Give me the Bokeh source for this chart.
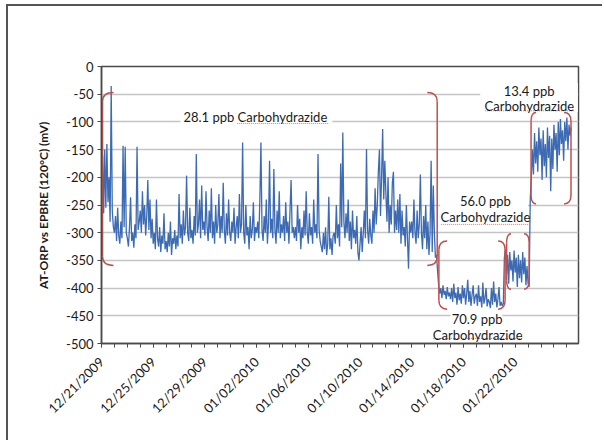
import math

from bokeh.plotting import figure
from bokeh.models import Range1d, FixedTicker, Label
from bokeh.embed import file_html
from bokeh.resources import INLINE

# Readings every 2 hours; x is in days since 12/21/2009 00:00
READINGS_PER_DAY = 12

x_tick_days = [0, 4, 8, 12, 16, 20, 24, 28, 32]
x_tick_labels = ["12/21/2009", "12/25/2009", "12/29/2009", "01/02/2010", "01/06/2010",
                 "01/10/2010", "01/14/2010", "01/18/2010", "01/22/2010"]
y_ticks = list(range(-500, 1, 50))

# AT-ORP (mV) at 28.1 ppb carbohydrazide, one row per day from 12/21
orp_28_1 = [
    -250, -160, -265, -150, -255, -140, -245, -200, -280, -35, -260, -290,
    -300, -270, -315, -255, -305, -320, -280, -310, -143, -290, -145, -300,
    -310, -325, -290, -236, -315, -300, -327, -285, -310, -145, -295, -280,
    -260, -300, -225, -285, -250, -305, -270, -205, -295, -240, -310, -275,
    -320, -300, -330, -240, -310, -325, -290, -335, -305, -320, -265, -330,
    -315, -335, -300, -325, -280, -340, -310, -320, -295, -330, -305, -325,
    -230, -310, -285, -320, -260, -305, -290, -197, -300, -315, -255, -310,
    -295, -320, -270, -305, -158, -300, -285, -240, -310, -215, -295, -280,
    -305, -225, -290, -315, -260, -300, -220, -310, -280, -320, -250, -300,
    -285, -230, -310, -270, -300, -210, -295, -320, -265, -305, -240, -300,
    -315, -280, -300, -255, -320, -290, -270, -310, -230, -300, -285, -137,
    -300, -320, -250, -305, -290, -330, -270, -310, -295, -245, -315, -290,
    -300, -280, -310, -240, -137, -295, -315, -270, -300, -240, -320, -285,
    -170, -300, -275, -310, -185, -295, -320, -260, -300, -225, -310, -285,
    -300, -270, -315, -245, -300, -280, -320, -260, -205, -300, -290, -310,
    -290, -315, -250, -300, -275, -330, -290, -310, -260, -305, -225, -300,
    -320, -265, -305, -290, -320, -240, -300, -285, -310, -158, -295, -315,
    -325, -335, -300, -330, -290, -340, -320, -235, -330, -310, -340, -305,
    -300, -320, -250, -310, -285, -325, -175, -290, -119, -280, -310, -265,
    -300, -240, -315, -280, -330, -260, -310, -295, -320, -270, -335, -350,
    -320, -290, -335, -300, -260, -310, -149, -295, -320, -275, -305, -320,
    -260, -300, -220, -285, -250, -190, -150, -270, -200, -113, -240, -170,
    -230, -280, -200, -300, -250, -285, -210, -190, -300, -260, -295, -240,
    -300, -230, -320, -260, -305, -290, -325, -250, -310, -365, -280, -300,
    -280, -310, -240, -300, -320, -260, -310, -285, -195, -300, -330, -270,
    -310, -250, -330, -280, -340, -300, -170, -335, -215, -300, -345, -340,
]

# AT-ORP (mV) at 70.9 ppb carbohydrazide, from 01/16
orp_70_9 = [
    -370, -395, -410, -400, -418, -395, -412, -405, -420, -398, -415, -408,
    -420, -400, -425, -392, -418, -408, -430, -398, -422, -410, -428, -395,
    -418, -400, -430, -410, -385, -425, -405, -432, -412, -395, -428, -415,
    -410, -432, -395, -425, -415, -435, -390, -428, -418, -400, -433, -420,
    -425, -436, -400, -430, -388, -425, -410, -435, -420, -398, -432, -425,
    -432, -428,
]

# AT-ORP (mV) at 56.0 ppb carbohydrazide
orp_56_0 = [
    -345, -330, -375, -340, -392, -335, -368, -350, -388, -332, -372, -345,
    -398, -340, -382, -350, -390, -335, -375, -345, -395, -360, -392, -398,
]

# AT-ORP (mV) at 13.4 ppb carbohydrazide
orp_13_4 = [
    -240, -200, -150, -195, -120, -175, -135, -190, -110, -160, -130, -205,
    -115, -180, -140, -200, -110, -165, -125, -225, -130, -185, -105, -150,
    -120, -190, -100, -160, -95, -140, -115, -170, -100, -135, -92, -150,
    -105, -125, -110,
]

orp = orp_28_1 + orp_70_9 + orp_56_0 + orp_13_4
days = [i / READINGS_PER_DAY for i in range(len(orp))]

FONT = "Lato"
BLUE = "#3C6BB3"
RED = "#C0504D"
DARK = "#4A4A4A"
TEXT = "#1A1A1A"

p = figure(width=596, height=436,
           x_range=Range1d(0, 36.9), y_range=Range1d(-500, 0),
           output_backend="svg", toolbar_location=None,
           min_border_left=93, min_border_right=26,
           min_border_top=60, min_border_bottom=99)
# chart-area frame along the left and top edges of the page
p.styles = {"margin-left": "6px", "margin-top": "4px",
            "border-left": "2px solid #555555", "border-top": "2px solid #555555"}

p.background_fill_color = "white"
p.border_fill_color = "white"
p.outline_line_color = DARK
p.outline_line_width = 1.5

# grid
p.xgrid.visible = False
p.ygrid.grid_line_color = "#C4C4C4"
p.ygrid.grid_line_width = 1.5

# y axis
p.yaxis.ticker = FixedTicker(ticks=y_ticks)
p.yaxis.major_label_overrides = {v: str(v) for v in y_ticks}
p.yaxis.axis_label = "AT-ORP vs EPBRE (120\u00b0C) (mV)"
p.yaxis.axis_label_text_font = FONT
p.yaxis.axis_label_text_font_style = "bold"
p.yaxis.axis_label_text_font_size = "12px"
p.yaxis.axis_label_text_color = TEXT
p.yaxis.axis_label_standoff = 12

# x axis: labelled every 4 days, ticked every day
p.xaxis.ticker = FixedTicker(ticks=x_tick_days, minor_ticks=list(range(0, 37)))
p.xaxis.major_label_overrides = dict(zip(x_tick_days, x_tick_labels))
p.xaxis.major_label_orientation = math.pi / 4

for ax in (p.xaxis, p.yaxis):
    ax.axis_line_color = DARK
    ax.axis_line_width = 1.5
    ax.major_tick_line_color = DARK
    ax.minor_tick_line_color = DARK
    ax.major_tick_in = 0
    ax.major_tick_out = 4
    ax.minor_tick_in = 0
    ax.minor_tick_out = 4
    ax.major_label_text_font = FONT
    ax.major_label_text_font_size = "13px"
    ax.major_label_text_color = TEXT
    ax.major_label_standoff = 4
p.yaxis.minor_tick_line_color = None
p.xaxis.major_label_standoff = 12

# ORP trace
p.line(days, orp, line_color=BLUE, line_width=1.3)

# white text boxes: (left, right, bottom, top)
boxes = [(6.1, 17.85, -108, -78), (29.3, 36.85, -82, -30),
         (26.2, 33.0, -286, -228), (27.0, 31.0, -468, -444)]
p.quad(left=[b[0] for b in boxes], right=[b[1] for b in boxes],
       bottom=[b[2] for b in boxes], top=[b[3] for b in boxes],
       fill_color="white", line_color=None)

# curly brackets around each dosing period: (x of spine, x of tips, low, high)
brackets = [(0.08, 0.93, -359, -47), (25.97, 25.2, -359, -47),
            (26.1, 26.74, -438, -315), (31.22, 30.68, -438, -315),
            (31.34, 31.68, -402, -302), (33.08, 32.69, -402, -302),
            (33.23, 33.62, -248, -83), (36.32, 35.78, -248, -83)]
R = 16
p.segment(x0=[b[0] for b in brackets], y0=[b[3] - R for b in brackets],
          x1=[b[0] for b in brackets], y1=[b[2] + R for b in brackets],
          line_color=RED, line_width=1.5)
p.quadratic(x0=[b[1] for b in brackets], y0=[b[3] for b in brackets],
            x1=[b[0] for b in brackets], y1=[b[3] - R for b in brackets],
            cx=[b[0] for b in brackets], cy=[b[3] for b in brackets],
            line_color=RED, line_width=1.5)
p.quadratic(x0=[b[0] for b in brackets], y0=[b[2] + R for b in brackets],
            x1=[b[1] for b in brackets], y1=[b[2] for b in brackets],
            cx=[b[0] for b in brackets], cy=[b[2] for b in brackets],
            line_color=RED, line_width=1.5)

# spell-check style underlines below "Carbohydrazide"
squiggles = [(10.5, 17.55, -103), (29.68, 36.55, -80), (26.28, 33.08, -285), (25.66, 32.54, -491)]
for x0, x1, yv in squiggles:
    p.line([x0, x1], [yv, yv], line_color="#E57373", line_width=1, line_dash="1 1")

labels = [
    ("28.1 ppb Carbohydrazide", 11.9, -92),
    ("13.4 ppb", 33.08, -43.5), ("Carbohydrazide", 33.1, -71),
    ("56.0 ppb", 29.7, -243), ("Carbohydrazide", 29.7, -272),
    ("70.9 ppb", 29.06, -455), ("Carbohydrazide", 29.1, -484),
]
for txt, xv, yv in labels:
    p.add_layout(Label(x=xv, y=yv, text=txt, text_font=FONT, text_font_size="13px",
                       text_color=TEXT, text_align="center", text_baseline="middle"))

open("out.html", "w").write(file_html(p, INLINE))
